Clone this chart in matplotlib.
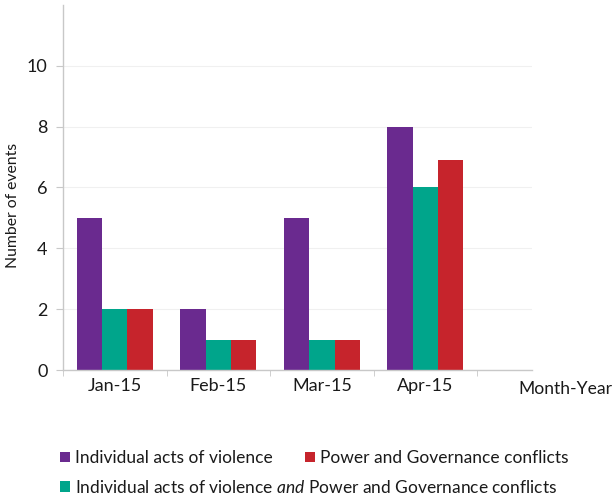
import numpy as np
import matplotlib
matplotlib.use("Agg")
import matplotlib.pyplot as plt

plt.rcParams['font.family'] = ['Lato', 'DejaVu Sans']
plt.rcParams['mathtext.fontset'] = 'custom'
plt.rcParams['mathtext.rm'] = 'Lato'
plt.rcParams['mathtext.it'] = 'Lato:italic'

# data
months = ["Jan-15", "Feb-15", "Mar-15", "Apr-15"]
violence = [5, 2, 5, 8]
both = [2, 1, 1, 6]
governance = [2, 1, 1, 6.9]

c_purple = "#6a2a8f"
c_teal = "#00a58b"
c_red = "#c6242c"
grey = "#c8c8c8"
txt = "#1a1a1a"

fig = plt.figure(figsize=(6.12, 4.98), dpi=100)
ax = fig.add_axes([63 / 612, 1 - 370 / 498, (532 - 63) / 612, (370 - 5) / 498])

x = np.arange(len(months))
w = 0.245
ax.bar(x - w, violence, w, color=c_purple, label="Individual acts of violence")
ax.bar(x, both, w, color=c_teal,
       label=r"Individual acts of violence $\mathit{and}$ Power and Governance conflicts")
ax.bar(x + w, governance, w, color=c_red, label="Power and Governance conflicts")

ax.set_xlim(-0.5, 4.03)
ax.set_ylim(0, 12)
ax.set_yticks([0, 2, 4, 6, 8, 10])
ax.yaxis.grid(True, color="#f0f0f0", linewidth=0.8)
ax.set_axisbelow(True)

ax.set_xticks(x)
ax.set_xticklabels(months, fontsize=13, color=txt)
ax.set_xticks(np.arange(-0.5, 4, 1), minor=True)
ax.tick_params(axis="x", which="major", length=0, pad=6)
ax.tick_params(axis="x", which="minor", length=4, color=grey, direction="out")
ax.tick_params(axis="y", length=5, color=grey, labelsize=13, labelcolor=txt, pad=6)

for s in ["top", "right"]:
    ax.spines[s].set_visible(False)
for s in ["left", "bottom"]:
    ax.spines[s].set_color(grey)
    ax.spines[s].set_linewidth(1.0)

ax.set_ylabel("Number of events", fontsize=11.3, color=txt)
ax.yaxis.set_label_coords(-0.092, 0.452)
fig.text(565 / 612, 1 - 389 / 498, "Month-Year", fontsize=12.6, color=txt,
         ha="center", va="center")

h, lab = ax.get_legend_handles_labels()
leg_kw = dict(frameon=False, fontsize=12.5, handlelength=0.55, handleheight=0.55,
              handletextpad=0.3, borderaxespad=0, borderpad=0, labelcolor=txt)
fig.legend([h[0], h[2]], [lab[0], lab[2]], ncol=2, loc="center left",
           bbox_to_anchor=(60 / 612, 1 - 458 / 498), columnspacing=1.9, **leg_kw)
fig.legend([h[1]], [lab[1]], loc="center left",
           bbox_to_anchor=(60 / 612, 1 - 487 / 498), **leg_kw)

fig.savefig("out.png", dpi=100)
